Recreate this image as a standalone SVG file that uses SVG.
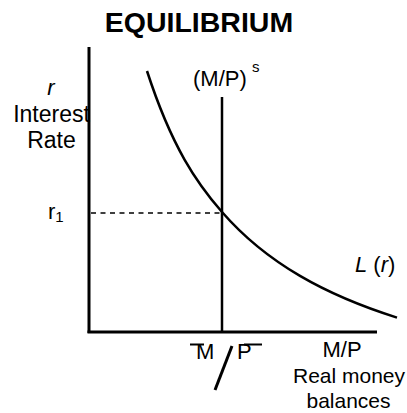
<svg xmlns="http://www.w3.org/2000/svg" width="407" height="413" viewBox="0 0 407 413">
<style>
.t{font-family:"Liberation Sans",Arial,sans-serif;font-size:22px;fill:#000}
.ax{stroke:#000;stroke-width:3;fill:none}
.ln{stroke:#000;stroke-width:2.5;fill:none}
</style>
<rect width="407" height="413" fill="#fff"/>
<text class="t" x="199" y="32" text-anchor="middle" style="font-size:28.5px;font-weight:bold">EQUILIBRIUM</text>
<g id="axes">
<line class="ax" x1="89" y1="47" x2="89" y2="333"/>
<line class="ax" x1="87.5" y1="332" x2="377" y2="332"/>
</g>
<g id="y-label">
<text class="t" x="51" y="95" text-anchor="middle" font-style="italic">r</text>
<text class="t" x="51.5" y="122" text-anchor="middle" style="font-size:23px">Interest</text>
<text class="t" x="51.5" y="148" text-anchor="middle" style="font-size:23px">Rate</text>
</g>
<g id="r1">
<text class="t" x="48" y="219">r<tspan style="font-size:15px" dy="3">1</tspan></text>
</g>
<g id="connectors">
<line x1="91" y1="213" x2="222" y2="213" stroke="#000" stroke-width="1.5" stroke-dasharray="5 4.5"/>
</g>
<g id="supply">
<line class="ln" x1="222" y1="97" x2="222" y2="333"/>
<text class="t" x="193" y="86">(M/P)<tspan x="252" y="72" style="font-size:15px">s</tspan></text>
</g>
<g id="demand">
<path class="ln" d="M147,71 C172,147.8 197,183.25 222,212 C248,241.9 274,260.7 300,275.9 C332.3,294.8 364.7,307.4 397,317.6"/>
<text class="t" x="355" y="272" font-style="italic">L<tspan font-style="normal"> (</tspan>r<tspan font-style="normal">)</tspan></text>
</g>
<g id="mp-bar">
<text class="t" x="196" y="359">M</text>
<text class="t" x="237" y="359">P</text>
<line x1="190" y1="344.5" x2="204" y2="344.5" stroke="#000" stroke-width="2"/>
<line x1="244" y1="344.5" x2="262" y2="344.5" stroke="#000" stroke-width="2"/>
<line x1="232" y1="346" x2="215" y2="390" stroke="#000" stroke-width="3"/>
</g>
<g id="x-label">
<text class="t" x="342" y="357" text-anchor="middle">M/P</text>
<text class="t" x="349" y="383" text-anchor="middle" style="font-size:21px">Real money</text>
<text class="t" x="348.5" y="408" text-anchor="middle" style="font-size:21px">balances</text>
</g>
</svg>
